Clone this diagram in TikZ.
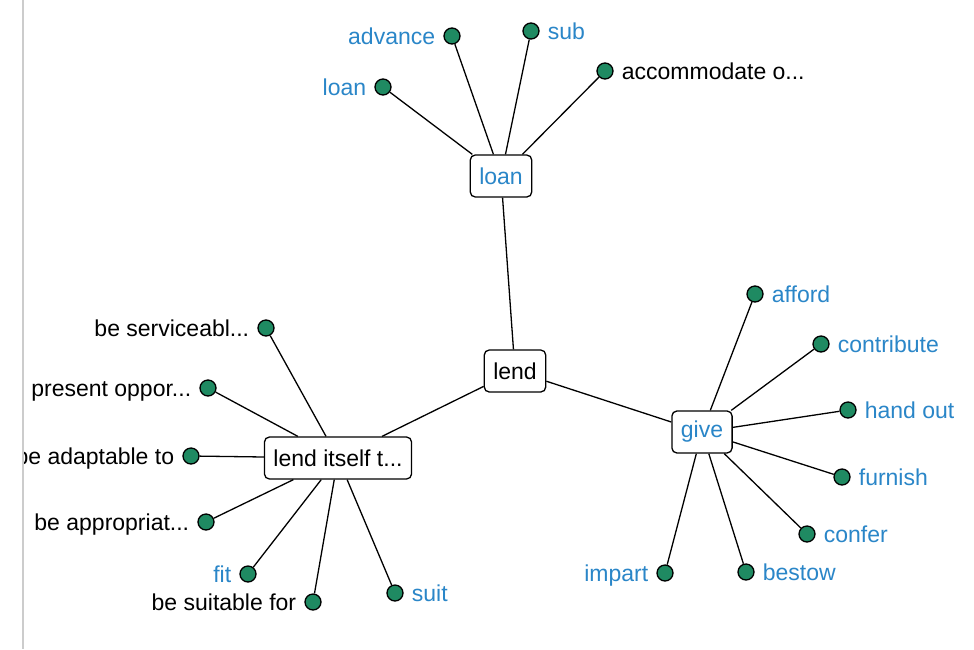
\documentclass[tikz,border=0pt]{standalone}
\usepackage{fontspec}
\setmainfont{Liberation Sans}
\definecolor{wordblue}{HTML}{2A86C8}
\definecolor{dotgreen}{HTML}{1F8A62}
\definecolor{railgray}{HTML}{CCCCCC}

\begin{document}
\begin{tikzpicture}[x=1pt, y=-1pt, font=\fontsize{23}{27}\selectfont,
  term/.style={draw=black, line width=1.3pt, rounded corners=5pt, fill=white, minimum height=42pt, inner xsep=9pt},
  leaf/.style={circle, draw=black, line width=1.3pt, fill=dotgreen, minimum size=16pt, inner sep=0pt},
  word/.style={text=wordblue, inner sep=2pt, text height=17pt, text depth=1pt},
  phrase/.style={text=black, inner sep=2pt, text height=17pt, text depth=1pt},
  link/.style={line width=1.3pt},
  label distance=6pt]
\useasboundingbox (0,0) rectangle (974,649);
\fill[white] (0,0) rectangle (974,649);

\node[term] (lend) at (515,371) {lend};
\node[term, text=wordblue] (loanhub) at (501,176) {loan};
\node[term, text=wordblue] (give) at (702,432) {give};
\node[term] (itself) at (338,458) {lend itself t...};

% loan
\node[leaf, label={[word]left:loan}] (loanleaf) at (383,87) {};
\node[leaf, label={[word]left:advance}] (advance) at (452,36) {};
\node[leaf, label={[word]right:sub}] (sub) at (531,31) {};
\node[leaf, label={[phrase]right:accommodate o...}] (accommodate) at (605,71) {};

% lend itself to
\node[leaf, label={[phrase]left:be serviceabl...}] (serviceable) at (266,328) {};
\node[leaf, label={[phrase]left:present oppor...}] (present) at (208,388) {};
\node[leaf, label={[phrase]left:be adaptable to}] (adaptable) at (191,456) {};
\node[leaf, label={[phrase]left:be appropriat...}] (appropriate) at (206,522) {};
\node[leaf, label={[word]left:fit}] (fit) at (248,574) {};
\node[leaf, label={[phrase]left:be suitable for}] (suitable) at (313,602) {};
\node[leaf, label={[word]right:suit}] (suit) at (395,593) {};

% give
\node[leaf, label={[word]right:afford}] (afford) at (755,294) {};
\node[leaf, label={[word]right:contribute}] (contribute) at (821,344) {};
\node[leaf, label={[word]right:hand out}] (handout) at (848,410) {};
\node[leaf, label={[word]right:furnish}] (furnish) at (842,477) {};
\node[leaf, label={[word]right:confer}] (confer) at (807,534) {};
\node[leaf, label={[word]right:bestow}] (bestow) at (746,572) {};
\node[leaf, label={[word]left:impart}] (impart) at (665,573) {};

\draw[link] (lend) -- (loanhub);
\draw[link] (lend) -- (give);
\draw[link] (lend) -- (itself);

\draw[link] (loanhub) -- (loanleaf);
\draw[link] (loanhub) -- (advance);
\draw[link] (loanhub) -- (sub);
\draw[link] (loanhub) -- (accommodate);

\draw[link] (itself) -- (serviceable);
\draw[link] (itself) -- (present);
\draw[link] (itself) -- (adaptable);
\draw[link] (itself) -- (appropriate);
\draw[link] (itself) -- (fit);
\draw[link] (itself) -- (suitable);
\draw[link] (itself) -- (suit);

\draw[link] (give) -- (afford);
\draw[link] (give) -- (contribute);
\draw[link] (give) -- (handout);
\draw[link] (give) -- (furnish);
\draw[link] (give) -- (confer);
\draw[link] (give) -- (bestow);
\draw[link] (give) -- (impart);

\fill[white] (0,0) rectangle (22,649);
\draw[railgray, line width=2pt] (23,0) -- (23,649);
\end{tikzpicture}
\end{document}
